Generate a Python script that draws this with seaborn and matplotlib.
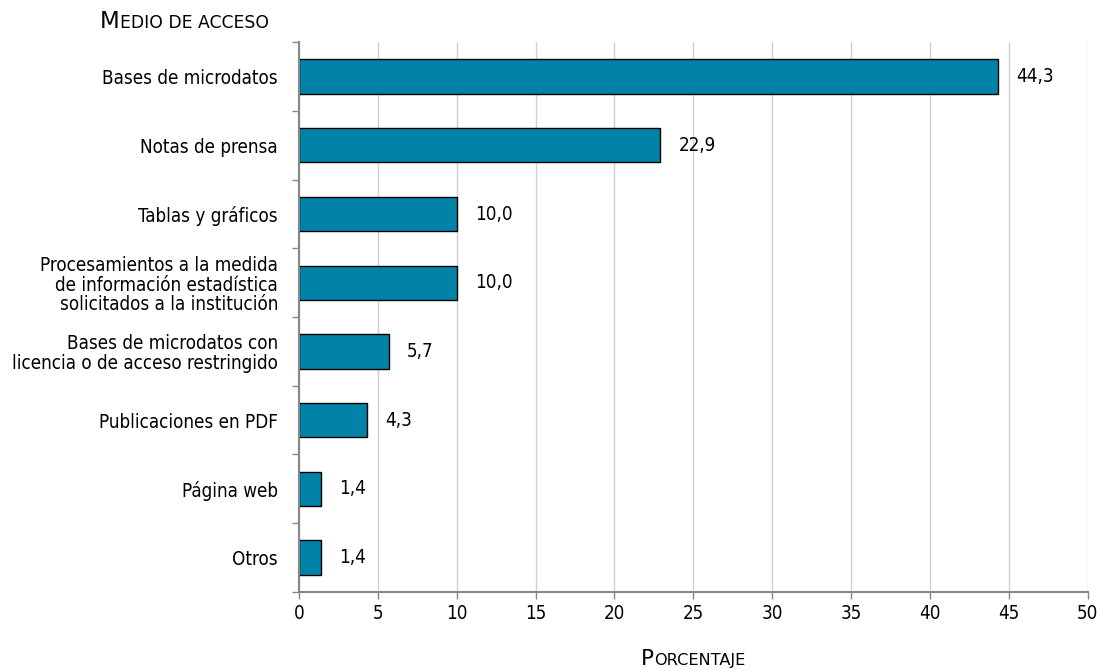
import numpy as np
import pandas as pd
import matplotlib
matplotlib.use("Agg")
import matplotlib.pyplot as plt
import seaborn as sns
from matplotlib.ticker import FixedLocator

categories = [
    "Bases de microdatos",
    "Notas de prensa",
    "Tablas y gráficos",
    "Procesamientos a la medida\nde información estadística\nsolicitados a la institución",
    "Bases de microdatos con\nlicencia o de acceso restringido",
    "Publicaciones en PDF",
    "Página web",
    "Otros",
]
values = [44.3, 22.9, 10.0, 10.0, 5.7, 4.3, 1.4, 1.4]
value_labels = ["44,3", "22,9", "10,0", "10,0", "5,7", "4,3", "1,4", "1,4"]

sns.set_style("white")
plt.rcParams["font.family"] = ["DejaVu Sans"]
plt.rcParams["font.stretch"] = "condensed"
plt.rcParams["text.color"] = "black"
plt.rcParams["xtick.color"] = "black"
plt.rcParams["ytick.color"] = "black"

df = pd.DataFrame({"medio": categories, "pct": values})

fig = plt.figure(figsize=(11.01, 6.71), dpi=100)
ax = fig.add_axes([0.2715, 0.118, 0.7165, 0.819])

sns.barplot(data=df, x="pct", y="medio", orient="h", color="#0282a6",
            saturation=1, width=0.5, edgecolor="black", linewidth=1, ax=ax)

ax.set_xlim(0, 50)
ax.set_ylim(7.5, -0.5)
ax.set_xticks(np.arange(0, 51, 5))
ax.xaxis.grid(True, color="#d0d0d0", linewidth=1)
ax.set_axisbelow(True)

# category labels centred, tick marks on boundaries
ax.yaxis.set_minor_locator(FixedLocator(np.arange(-0.5, 8, 1)))
ax.tick_params(axis="y", which="major", length=0, pad=15, labelsize=13.5)
ax.tick_params(axis="y", which="minor", length=5, width=1, color="#888888", left=True)
ax.tick_params(axis="x", length=5, width=1, color="#888888", bottom=True, labelsize=13.5)
for lab in ax.get_yticklabels():
    lab.set_horizontalalignment("right")
    lab.set_multialignment("right")
    lab.set_linespacing(1.05)

for s in ["top", "right"]:
    ax.spines[s].set_visible(False)
for s in ["left", "bottom"]:
    ax.spines[s].set_color("#888888")
    ax.spines[s].set_linewidth(1.5)

ax.set_xlabel("")
ax.set_ylabel("")

for i, (v, t) in enumerate(zip(values, value_labels)):
    ax.annotate(t, (v, i), xytext=(13, 0), textcoords="offset points",
                va="center", ha="left", fontsize=13.5)


def small_caps(x, y, text, size, ha="left"):
    kw = dict(fontstretch="normal", va="baseline", ha="left")
    first = fig.text(x, y, text[0].upper(), fontsize=size, **kw)
    rest = text[1:].upper()
    fig.canvas.draw()
    r = fig.canvas.get_renderer()
    bb = first.get_window_extent(r)
    rest_t = fig.text(bb.x1 / fig.bbox.width, y, rest, fontsize=size * 0.75, **kw)
    if ha == "center":
        bb2 = rest_t.get_window_extent(r)
        w = (bb2.x1 - bb.x0) / fig.bbox.width
        first.set_x(x - w / 2)
        rest_t.set_x(x - w / 2 + (bb.x1 - bb.x0) / fig.bbox.width)


small_caps(100 / 1101, 1 - 28 / 671, "Medio de acceso", 16.5)
small_caps(693 / 1101, 1 - 665 / 671, "Porcentaje", 15.5, ha="center")

fig.savefig("out.png", dpi=100)
